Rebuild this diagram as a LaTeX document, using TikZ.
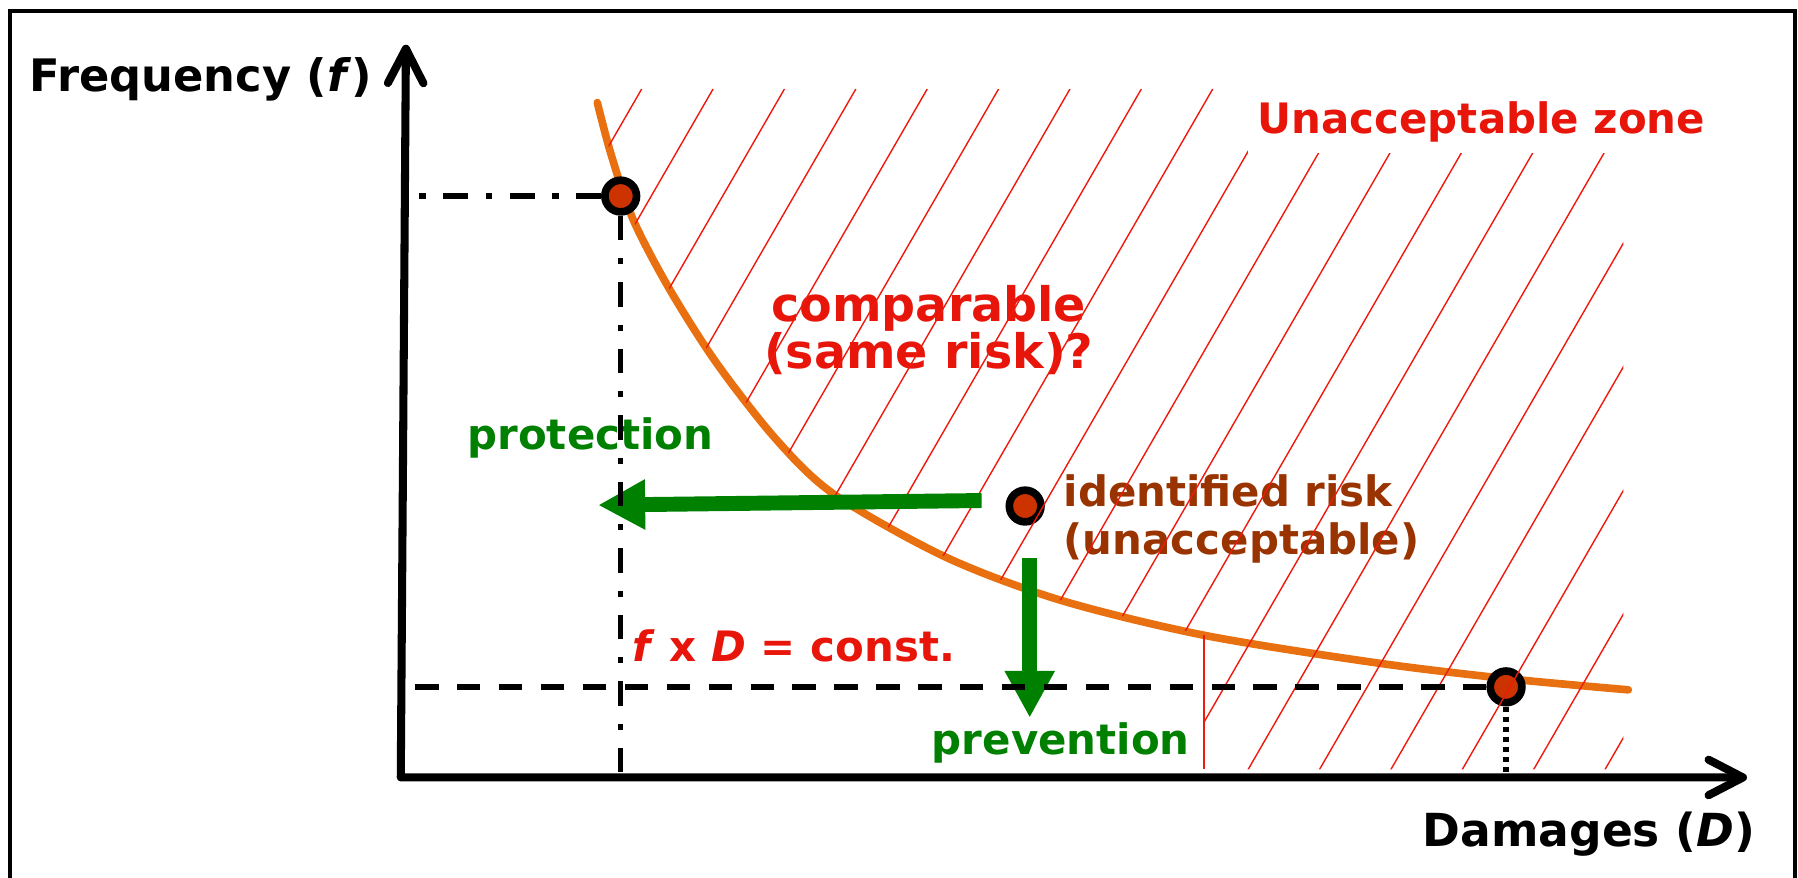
\documentclass[tikz,border=0pt]{standalone}
\usepackage{fontspec}
\setmainfont{DejaVu Sans}
\usetikzlibrary{arrows.meta}
\definecolor{zonered}{RGB}{232,22,10}
\definecolor{hatchred}{RGB}{238,26,14}
\definecolor{actgreen}{RGB}{0,128,0}
\definecolor{riskbrown}{RGB}{153,51,0}
\definecolor{curveorange}{RGB}{232,112,16}
\definecolor{dotred}{RGB}{204,51,0}
\begin{document}
\begin{tikzpicture}[
  lbl/.style={inner sep=0pt, font=\bfseries\fontsize{10.4}{12.1}\selectfont},
  axisline/.style={line width=2pt, line cap=round, line join=round,
    {Straight Barb[length=0.3cm, width=0.31cm, round]}-{Straight Barb[length=0.3cm, width=0.31cm, round]}},
  riskcurve/.style={draw=curveorange, line width=1.9pt, line cap=round},
  riskdot/.style={circle, draw=black, line width=1.9pt, fill=dotred, minimum size=0.276cm, inner sep=0pt},
  hatchline/.style={draw=hatchred, line width=0.35pt},
  greenarrow/.style={draw=actgreen, line width=3.7pt, -{Triangle[length=0.41cm, width=0.41cm]}},
  dashdot/.style={line width=1.35pt, dash pattern=on 6.1pt off 4.4pt on 1.6pt off 4.4pt},
  dashline/.style={line width=1.35pt, dash pattern=on 5.8pt off 4.6pt},
  dotline/.style={line width=1.5pt, dash pattern=on 1.25pt off 1.25pt}]
\useasboundingbox (0,0) rectangle (15.68,7.65);
% frame
\draw[line width=1pt] (0.086,-0.2) -- (0.086,7.554) -- (15.655,7.554) -- (15.655,-0.2);

% f x D = const.
\draw[riskcurve] plot[smooth] coordinates {(5.209,6.755) (5.33,6.30) (5.523,5.731) (5.843,5.121)
  (6.25,4.482) (6.773,3.813) (7.282,3.333) (8.25,2.79) (9.25,2.415) (10.50,2.11)
  (12.00,1.87) (13.13,1.733) (14.20,1.634)};

\node[lbl, font=\bfseries\fontsize{11.8}{11.6}\selectfont, text=zonered, align=center, anchor=base]
  (same) at (8.10,4.438) {comparable\\(same risk)?};
\node[lbl, text=riskbrown, align=left, anchor=base west] (ident) at (9.27,2.81)
  {identified risk\\(unacceptable)};
\node[lbl, text=zonered, anchor=base west] (const) at (5.51,1.88)
  {\textit{f} x \textit{D} = const.};

\node[riskdot] (d1) at (5.413,5.94) {};
\node[riskdot] (d2) at (8.94,3.237) {};
\node[riskdot] (d3) at (13.134,1.66) {};

% hatched zone
\begin{scope}
\clip plot[smooth] coordinates {(5.209,6.755) (5.33,6.30) (5.523,5.731) (5.843,5.121)
  (6.25,4.482) (6.773,3.813) (7.282,3.333) (8.25,2.79) (9.25,2.415) (10.50,2.11)}
  -- (10.50,0.94) -- (14.156,0.94) -- (14.156,6.874) -- (5.209,6.874) -- cycle;
\foreach \k in {0,...,19}
  \draw[hatchline] ({5.596+0.6225*\k},6.874) -- ++(-3.6,-6.235);
\end{scope}
\draw[hatchline] (10.50,2.11) -- (10.50,0.94);
\node[lbl, text=zonered, fill=white, inner sep=2.3pt, text height=0.42cm, text depth=0.09cm,
  anchor=base west] (zone) at (10.88,6.49) {Unacceptable zone};

% protection and prevention
\coordinate (protstart) at (8.56,3.285);
\coordinate (protend) at (5.216,3.245);
\coordinate (prevstart) at (8.98,2.783);
\coordinate (prevend) at (8.98,1.39);
\draw[greenarrow] (protstart) -- (protend);
\draw[greenarrow] (prevstart) -- (prevend);
\node[lbl, text=actgreen, anchor=base west] (prot) at (4.07,3.734) {protection};
\node[lbl, text=actgreen, anchor=base west] (prev) at (8.12,1.066) {prevention};

% axes
\coordinate (O) at (3.495,0.87);
\coordinate (ytip) at (3.54,7.26);
\coordinate (xtip) at (15.235,0.87);
\draw[dashdot] (d1.west) -- (3.63,5.94);
\draw[dashdot] (d1.south) -- (d1 |- O);
\draw[dashline] (d3.west) -- (O |- d3);
\draw[dotline] (d3.south) -- (d3 |- O);
\draw[axisline] (ytip) -- (O) -- (xtip);
\node[lbl, font=\bfseries\fontsize{11.1}{12}\selectfont, anchor=base west] (flabel) at (0.25,6.85)
  {Frequency (\textit{f})};
\node[lbl, font=\bfseries\fontsize{11.3}{12}\selectfont, anchor=base west] (dlabel) at (12.40,0.266)
  {Damages (\textit{D})};
\end{tikzpicture}
\end{document}
